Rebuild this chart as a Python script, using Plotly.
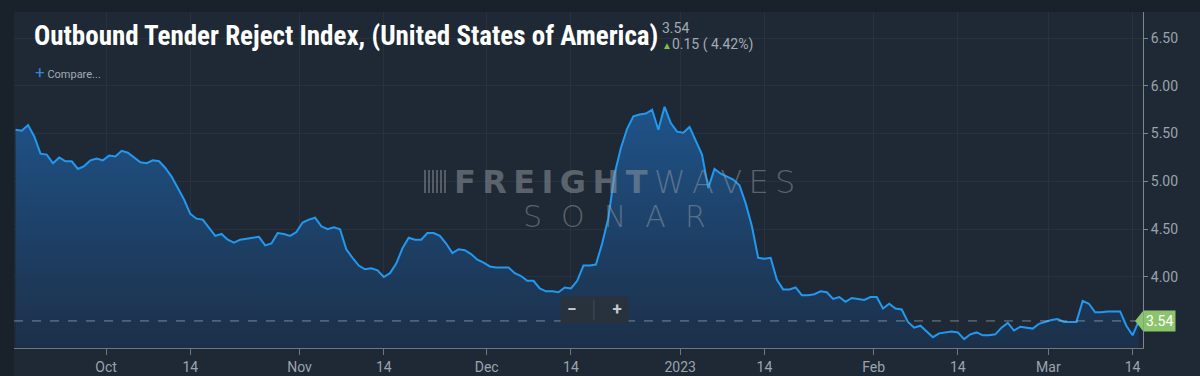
import pandas as pd
import plotly.graph_objects as go

# ---- data (daily Outbound Tender Reject Index, %) ----
start_date = "2022-09-16 12:00"
otri_values = [
    5.54, 5.53, 5.59, 5.47, 5.29, 5.28, 5.19, 5.25, 5.21, 5.21,
    5.13, 5.16, 5.22, 5.24, 5.22, 5.27, 5.26, 5.32, 5.30, 5.25,
    5.20, 5.19, 5.22, 5.21, 5.14, 5.05, 4.93, 4.81, 4.66, 4.61,
    4.60, 4.51, 4.43, 4.45, 4.39, 4.36, 4.39, 4.40, 4.41, 4.42,
    4.33, 4.35, 4.46, 4.45, 4.43, 4.47, 4.57, 4.60, 4.62, 4.53,
    4.50, 4.52, 4.50, 4.29, 4.20, 4.12, 4.08, 4.09, 4.07, 4.00,
    4.04, 4.14, 4.30, 4.41, 4.39, 4.39, 4.46, 4.46, 4.43, 4.35,
    4.25, 4.29, 4.28, 4.24, 4.18, 4.15, 4.11, 4.10, 4.10, 4.10,
    4.04, 4.01, 3.96, 3.96, 3.88, 3.85, 3.85, 3.84, 3.89, 3.88,
    3.96, 4.12, 4.12, 4.13, 4.35, 4.62, 5.08, 5.35, 5.55, 5.68,
    5.70, 5.71, 5.75, 5.54, 5.78, 5.61, 5.52, 5.51, 5.57, 5.42,
    5.28, 4.93, 5.13, 5.08, 5.05, 5.02, 4.96, 4.77, 4.53, 4.20,
    4.19, 4.20, 3.97, 3.87, 3.87, 3.89, 3.81, 3.81, 3.82, 3.85,
    3.84, 3.77, 3.79, 3.74, 3.78, 3.77, 3.76, 3.79, 3.79, 3.67,
    3.72, 3.67, 3.66, 3.53, 3.47, 3.49, 3.43, 3.37, 3.41, 3.42,
    3.43, 3.42, 3.35, 3.40, 3.42, 3.39, 3.39, 3.40, 3.47, 3.52,
    3.44, 3.48, 3.47, 3.46, 3.51, 3.53, 3.55, 3.56, 3.53, 3.53,
    3.53, 3.75, 3.72, 3.63, 3.63, 3.64, 3.64, 3.64, 3.49, 3.39,
    3.54,
]
dates = pd.date_range(start_date, periods=len(otri_values), freq="D")

x_tick_dates = ["2022-10-01", "2022-10-14 12:00", "2022-11-01", "2022-11-14 12:00",
                "2022-12-01", "2022-12-14 12:00", "2023-01-01", "2023-01-14 12:00",
                "2023-02-01", "2023-02-14 12:00", "2023-03-01", "2023-03-14 12:00"]
x_tick_labels = ["Oct", "14", "Nov", "14", "Dec", "14", "2023", "14", "Feb", "14", "Mar", "14"]
y_tick_values = [4.0, 4.5, 5.0, 5.5, 6.0, 6.5]
y_tick_labels = ["4.00", "4.50", "5.00", "5.50", "6.00", "6.50"]

title_text = "Outbound Tender Reject Index, (United States of America)"
last_value = otri_values[-1]
prev_value = otri_values[-2]
change = last_value - prev_value
change_pct = change / prev_value * 100

# ---- layout geometry ----
W, H = 1200, 376
ML, MR, MT, MB = 14, 57, 12, 28
PW, PH = W - ML - MR, H - MT - MB


def px(x):
    return (x - ML) / PW


def py(y):
    return (H - MB - y) / PH


PAPER = "#19212a"
PANEL = "#1e2935"
GRID = "rgba(255,255,255,0.045)"
TICKC = "#9ba4ae"
LINE = "#2299f0"
WM = "rgba(150,156,162,0.5)"
THIN = "\u2009"

fig = go.Figure()
fig.add_trace(go.Scatter(
    x=dates, y=otri_values, mode="lines",
    line=dict(color=LINE, width=2),
    fill="tozeroy",
    fillgradient=dict(type="vertical",
                      colorscale=[[0, "#1c3049"], [1, "#1f5389"]],
                      start=3.26, stop=5.8),
    hoverinfo="skip", showlegend=False,
))

fig.update_layout(
    width=W, height=H,
    margin=dict(l=ML, r=MR, t=MT, b=MB, pad=0, autoexpand=False),
    paper_bgcolor=PAPER, plot_bgcolor="rgba(0,0,0,0)",
    font=dict(family="Roboto, Noto Sans, sans-serif", color=TICKC, size=14),
    showlegend=False,
    xaxis=dict(
        range=["2022-09-16 06:00", "2023-03-16 04:00"],
        tickvals=x_tick_dates, ticktext=x_tick_labels,
        showgrid=True, gridcolor=GRID, gridwidth=1,
        showline=True, linecolor="#6c7782", linewidth=1,
        ticks="outside", ticklen=6, tickcolor="#6c7782",
        tickfont=dict(size=14, color=TICKC),
        zeroline=False, fixedrange=True, automargin=False,
    ),
    yaxis=dict(
        range=[3.257, 6.772], side="right",
        tickvals=y_tick_values, ticktext=y_tick_labels,
        showgrid=True, gridcolor=GRID, gridwidth=1,
        showline=True, linecolor="#7d8792", linewidth=1,
        ticks="outside", ticklen=4, tickcolor="#7d8792",
        tickfont=dict(size=14, color=TICKC),
        zeroline=False, fixedrange=True, automargin=False,
    ),
)

shapes = []
# lighter panel behind the chart
shapes.append(dict(type="rect", xref="paper", yref="paper",
                   x0=0, x1=px(W), y0=py(H), y1=1,
                   fillcolor=PANEL, line=dict(width=0), layer="below"))
# dashed last-value line
shapes.append(dict(type="line", xref="paper", yref="y",
                   x0=0, x1=1, y0=last_value, y1=last_value,
                   line=dict(color="rgba(200,205,210,0.55)", width=1, dash="dash")))
# green last-value pointer
shapes.append(dict(type="path", xref="paper", yref="y",
                   path=f"M {px(1135)},{last_value} L {px(1143)},{last_value + 0.105} "
                        f"L {px(1143)},{last_value - 0.105} Z",
                   fillcolor="#8cc46c", line=dict(width=0)))
# watermark logo bars
for i in range(6):
    bx = 424 + i * 4
    shapes.append(dict(type="rect", xref="paper", yref="paper",
                       x0=px(bx), x1=px(bx + 2), y0=py(193), y1=py(170),
                       fillcolor="rgba(150,156,162,0.45)", line=dict(width=0)))
fig.update_layout(shapes=shapes)

ann = []
ann.append(dict(xref="paper", yref="paper", x=px(33), y=py(36), xshift=-1,
                xanchor="left", yanchor="middle", showarrow=False,
                text=f"<b>{title_text}</b>",
                font=dict(family="Roboto Condensed, Liberation Sans Narrow, DejaVu Sans Condensed, sans-serif",
                          size=27, color="#ffffff")))
ann.append(dict(xref="paper", yref="paper", x=px(660), y=py(28),
                xanchor="left", yanchor="middle", showarrow=False,
                text=f"{last_value:.2f}", font=dict(size=14, color="#a3abb4")))
ann.append(dict(xref="paper", yref="paper", x=px(660), y=py(45),
                xanchor="left", yanchor="middle", showarrow=False,
                text=f"<span style='color:#7cc243;font-size:10px'>▲</span>{change:.2f} ( {change_pct:.2f}%)",
                font=dict(size=14, color="#a3abb4")))
ann.append(dict(xref="paper", yref="paper", x=px(33), y=py(72),
                xanchor="left", yanchor="middle", showarrow=False,
                text="<span style='color:#3a7fd8;font-size:17px'>+</span> Compare...",
                font=dict(size=11, color="#a3abb4")))
# watermark
ann.append(dict(xref="paper", yref="paper", x=px(452), y=py(182),
                xanchor="left", yanchor="middle", showarrow=False,
                text="<b>" + THIN.join("FREIGHT") + "</b>" + THIN + THIN.join("WAVES"),
                font=dict(family="DejaVu Sans, sans-serif", size=32, weight=300, color=WM)))
ann.append(dict(xref="paper", yref="paper", x=px(614), y=py(216),
                xanchor="center", yanchor="middle", showarrow=False,
                text="S  O  N  A  R",
                font=dict(family="DejaVu Sans, sans-serif", size=30, weight=200, color=WM)))
# zoom buttons
ann.append(dict(xref="paper", yref="paper", x=px(594), y=py(310),
                xanchor="center", yanchor="middle", showarrow=False,
                text=" <b>−</b>   <span style='color:#3c4753'>│</span>   <b>+</b> ",
                bgcolor="#28323d", borderpad=2,
                font=dict(size=17, color="#c3c9cf")))
# last value label
ann.append(dict(xref="paper", yref="y", x=1, y=last_value,
                xanchor="left", yanchor="middle", showarrow=False,
                text=f"{last_value:.2f}", bgcolor="#8cc46c", borderpad=2,
                font=dict(size=14, color="#ffffff")))
fig.update_layout(annotations=ann)

page_fix = (
    "var s=document.createElement('style');"
    "s.textContent='html,body{margin:0!important;padding:0!important;overflow:hidden!important;"
    "background:#19212a;}"
    ".plotly-graph-div{position:fixed!important;top:0!important;left:0!important;}';"
    "document.head.appendChild(s);"
)
fig.write_html("out.html", config={"displayModeBar": False, "staticPlot": True},
               post_script=page_fix)
